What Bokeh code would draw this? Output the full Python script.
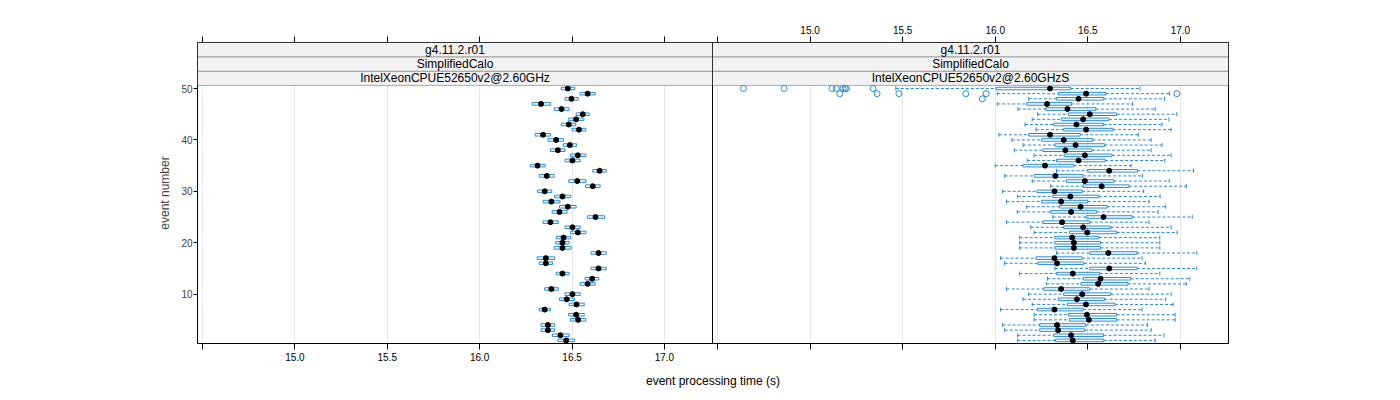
from bokeh.plotting import figure
from bokeh.layouts import row, column
from bokeh.models import Range1d, LinearAxis, FixedTicker, CustomJSTickFormatter, BoxAnnotation, Label
from bokeh.embed import file_html
from bokeh.resources import INLINE

# ---------------- data ----------------
events = list(range(1, 51))

# left panel: IntelXeonCPUE52650v2@2.60GHz  (q1, median, q3) for events 1..50
left_q1 = [16.423, 16.394, 16.332, 16.332, 16.491, 16.482, 16.322, 16.484, 16.432, 16.462,
           16.352, 16.544, 16.571, 16.414, 16.603, 16.322, 16.311, 16.603, 16.403, 16.412,
           16.414, 16.491, 16.462, 16.343, 16.584, 16.392, 16.432, 16.343, 16.405, 16.313,
           16.573, 16.482, 16.322, 16.612, 16.273, 16.462, 16.491, 16.383, 16.452, 16.370,
           16.300, 16.500, 16.441, 16.482, 16.522, 16.403, 16.284, 16.462, 16.544, 16.441]
left_med = [16.468, 16.437, 16.369, 16.369, 16.533, 16.522, 16.352, 16.524, 16.471, 16.502,
            16.388, 16.584, 16.609, 16.448, 16.643, 16.358, 16.358, 16.643, 16.448, 16.448,
            16.454, 16.531, 16.502, 16.383, 16.627, 16.432, 16.477, 16.388, 16.448, 16.352,
            16.612, 16.528, 16.363, 16.649, 16.313, 16.502, 16.531, 16.423, 16.488, 16.414,
            16.343, 16.537, 16.482, 16.522, 16.558, 16.443, 16.332, 16.497, 16.584, 16.477]
left_q3 = [16.513, 16.484, 16.405, 16.405, 16.575, 16.566, 16.383, 16.566, 16.513, 16.544,
           16.425, 16.625, 16.645, 16.484, 16.685, 16.394, 16.405, 16.685, 16.495, 16.484,
           16.493, 16.575, 16.544, 16.425, 16.676, 16.473, 16.522, 16.434, 16.493, 16.390,
           16.652, 16.575, 16.403, 16.685, 16.354, 16.544, 16.575, 16.462, 16.524, 16.454,
           16.383, 16.575, 16.520, 16.564, 16.593, 16.484, 16.383, 16.533, 16.625, 16.515]

# right panel: IntelXeonCPUE52650v2@2.60GHzS (whisker low, q1, median, q3, whisker high)
right_lo = [16.121, 16.121, 16.051, 16.040, 16.210, 16.210, 16.029, 16.200, 16.150, 16.181,
            16.061, 16.276, 16.282, 16.132, 16.322, 16.051, 16.029, 16.331, 16.132, 16.132,
            16.132, 16.210, 16.192, 16.061, 16.311, 16.119, 16.170, 16.061, 16.121, 16.040,
            16.300, 16.200, 16.051, 16.331, 16.000, 16.173, 16.210, 16.103, 16.150, 16.090,
            16.020, 16.220, 16.161, 16.200, 16.229, 16.123, 16.011, 16.181, 16.011, 15.463]
right_q1 = [16.325, 16.316, 16.240, 16.240, 16.401, 16.396, 16.229, 16.390, 16.341, 16.370,
            16.262, 16.463, 16.475, 16.331, 16.511, 16.231, 16.220, 16.511, 16.322, 16.322,
            16.322, 16.401, 16.370, 16.257, 16.490, 16.300, 16.347, 16.251, 16.311, 16.226,
            16.475, 16.385, 16.210, 16.500, 16.150, 16.331, 16.372, 16.258, 16.322, 16.251,
            16.181, 16.370, 16.316, 16.359, 16.396, 16.273, 16.170, 16.331, 16.341, 16.005]
right_med = [16.419, 16.410, 16.340, 16.334, 16.506, 16.495, 16.320, 16.490, 16.441, 16.470,
             16.356, 16.556, 16.569, 16.419, 16.616, 16.334, 16.320, 16.611, 16.425, 16.425,
             16.416, 16.497, 16.475, 16.361, 16.585, 16.410, 16.461, 16.356, 16.406, 16.320,
             16.575, 16.484, 16.325, 16.616, 16.269, 16.450, 16.484, 16.379, 16.434, 16.370,
             16.296, 16.491, 16.439, 16.475, 16.511, 16.390, 16.280, 16.450, 16.491, 16.296]
right_q3 = [16.587, 16.585, 16.484, 16.490, 16.656, 16.656, 16.475, 16.647, 16.591, 16.625,
            16.511, 16.717, 16.732, 16.565, 16.766, 16.479, 16.470, 16.766, 16.569, 16.569,
            16.560, 16.656, 16.625, 16.511, 16.741, 16.549, 16.605, 16.500, 16.560, 16.470,
            16.723, 16.641, 16.475, 16.768, 16.425, 16.594, 16.631, 16.522, 16.591, 16.527,
            16.459, 16.636, 16.585, 16.614, 16.656, 16.544, 16.412, 16.587, 16.598, 16.408]
right_hi = [16.864, 16.912, 16.842, 16.822, 16.972, 16.972, 16.793, 16.961, 16.921, 16.950,
            16.831, 17.032, 17.051, 16.889, 17.089, 16.811, 16.793, 17.089, 16.889, 16.889,
            16.889, 16.983, 16.950, 16.831, 17.064, 16.880, 16.921, 16.831, 16.891, 16.802,
            17.032, 16.940, 16.795, 17.071, 16.734, 16.916, 16.950, 16.842, 16.901, 16.842,
            16.773, 16.950, 16.901, 16.938, 16.981, 16.864, 16.741, 16.914, 16.941, 16.782]

outlier_event = [50, 50, 50, 50, 50, 50, 50, 50, 49, 49, 49, 49, 49, 49, 48]
outlier_time = [14.640, 14.860, 15.118, 15.142, 15.178, 15.189, 15.196, 15.340,
                15.160, 15.362, 15.480, 15.841, 15.951, 16.981, 15.930]

x_ticks = [14.5, 15.0, 15.5, 16.0, 16.5, 17.0]
y_ticks = [10, 20, 30, 40, 50]
strip_texts_left = ["IntelXeonCPUE52650v2@2.60GHz", "SimplifiedCalo", "g4.11.2.r01"]
strip_texts_right = ["IntelXeonCPUE52650v2@2.60GHzS", "SimplifiedCalo", "g4.11.2.r01"]

# ---------------- style ----------------
FONT = "Liberation Sans"
BLUE = "#2a8ad4"
X0, X1 = 14.473, 17.260
Y0, Y1 = 0.4, 58.95
STRIP_EDGES = [50.6, 53.38, 56.17, 58.95]
BOX_H = 0.5

label_fmt = CustomJSTickFormatter(code="return tick < 14.9 ? '' : tick.toFixed(1);")
blank_fmt = CustomJSTickFormatter(code="return '';")


def style_axis(ax, labels=True):
    ax.ticker = FixedTicker(ticks=x_ticks)
    ax.formatter = label_fmt if labels else blank_fmt
    ax.axis_line_color = "black"
    ax.major_tick_line_color = "black"
    ax.minor_tick_line_color = None
    ax.major_tick_out = 6
    ax.major_tick_in = 0
    ax.major_label_standoff = 3
    ax.major_label_text_font = FONT
    ax.major_label_text_font_size = "10px"
    ax.major_label_text_color = "black"


def make_panel(width, mbl, mbr, labels_below, strip_texts):
    p = figure(width=width, height=368, x_range=Range1d(X0, X1), y_range=Range1d(Y0, Y1),
               output_backend="svg", toolbar_location=None,
               min_border_left=mbl, min_border_right=mbr, min_border_top=42, min_border_bottom=25,
               x_axis_location="below", y_axis_location=("left" if mbl > 0 else None))
    p.background_fill_color = "white"
    p.border_fill_color = "white"
    p.outline_line_color = "black"
    p.outline_line_width = 1
    # bottom axis
    style_axis(p.xaxis[0], labels=labels_below)
    # top axis
    top = LinearAxis()
    style_axis(top, labels=not labels_below)
    p.add_layout(top, "above")
    # grid
    p.xgrid.ticker = FixedTicker(ticks=x_ticks)
    p.xgrid.grid_line_color = "#e6e6e6"
    p.xgrid.grid_line_width = 1
    p.ygrid.visible = False
    # strips
    for i, txt in enumerate(strip_texts):
        p.add_layout(BoxAnnotation(bottom=STRIP_EDGES[i], top=STRIP_EDGES[i + 1],
                                   fill_color="#f2f2f2", fill_alpha=1.0,
                                   line_color="black", line_width=1))
        p.add_layout(Label(x=(X0 + X1) / 2, y=(STRIP_EDGES[i] + STRIP_EDGES[i + 1]) / 2,
                           text=txt, text_align="center", text_baseline="middle",
                           text_font=FONT, text_font_size="12px", text_color="black"))
    return p


# left panel
p1 = make_panel(712, 197, 0, True, strip_texts_left)
p1.outline_line_color = None
yax = p1.yaxis[0]
yax.ticker = FixedTicker(ticks=y_ticks)
yax.axis_line_color = "black"
yax.major_tick_line_color = "black"
yax.minor_tick_line_color = None
yax.major_tick_out = 4
yax.major_tick_in = 0
yax.major_label_standoff = 1
yax.major_label_text_font = FONT
yax.major_label_text_font_size = "10px"
yax.axis_label = "event number"
yax.axis_label_text_font = FONT
yax.axis_label_text_font_size = "12px"
yax.axis_label_text_font_style = "normal"
yax.axis_label_standoff = 6

p1.hbar(y=events, left=left_q1, right=left_q3, height=BOX_H,
        fill_color=None, line_color=BLUE, line_width=1)
p1.scatter(x=left_med, y=events, size=5, color="black")

# right panel
p2 = make_panel(688, 0, 172, False, strip_texts_right)
p2.segment(x0=right_lo, y0=events, x1=right_q1, y1=events,
           line_color=BLUE, line_width=1, line_dash="3 2")
p2.segment(x0=right_q3, y0=events, x1=right_hi, y1=events,
           line_color=BLUE, line_width=1, line_dash="3 2")
p2.scatter(x=right_lo, y=events, marker="dash", angle=1.5708, size=4, line_color=BLUE)
p2.scatter(x=right_hi, y=events, marker="dash", angle=1.5708, size=4, line_color=BLUE)
p2.hbar(y=events, left=right_q1, right=right_q3, height=BOX_H,
        fill_color=None, line_color=BLUE, line_width=1)
p2.scatter(x=outlier_time, y=outlier_event, size=6, fill_color=None, line_color=BLUE, line_width=1)
p2.scatter(x=right_med, y=events, size=5, color="black")

# common x label
p3 = figure(width=1400, height=32, x_range=Range1d(0, 1400), y_range=Range1d(0, 32),
            output_backend="svg", toolbar_location=None, min_border=0,
            x_axis_location=None, y_axis_location=None)
p3.outline_line_color = None
p3.grid.visible = False
p3.add_layout(Label(x=712.5, y=20, text="event processing time (s)", text_align="center",
                    text_baseline="middle", text_font=FONT, text_font_size="12px",
                    text_color="black"))

layout = column(row(p1, p2), p3)
open("out.html", "w").write(file_html(layout, INLINE))
